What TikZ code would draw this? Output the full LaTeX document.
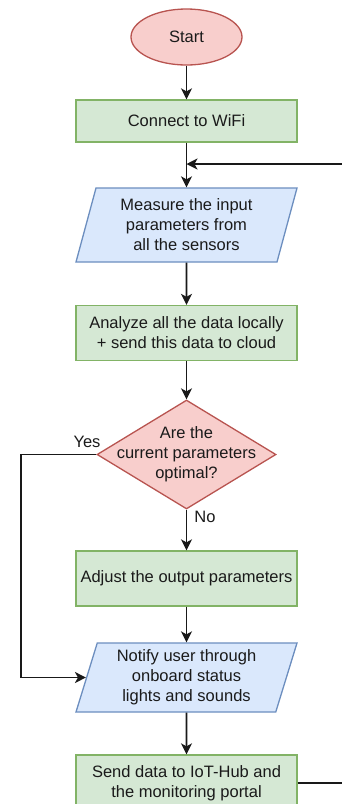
\documentclass[tikz,border=0pt]{standalone}
\usepackage{fontspec}
\setmainfont{Liberation Sans}
\usetikzlibrary{shapes.geometric,arrows.meta}
\definecolor{gfill}{HTML}{D5E8D4}
\definecolor{gline}{HTML}{82B366}
\definecolor{bfill}{HTML}{DAE8FC}
\definecolor{bline}{HTML}{6C8EBF}
\definecolor{rfill}{HTML}{F8CECC}
\definecolor{rline}{HTML}{B85450}
\definecolor{txt}{HTML}{1A1A1A}
\begin{document}
\begin{tikzpicture}[x=1pt,y=-1pt,
  font=\fontsize{16.5}{20}\selectfont,
  every node/.style={text=txt, align=center, inner sep=0pt, line width=1.3pt},
  every label/.style={text=txt, align=center, inner sep=0pt},
  procbox/.style={draw=gline, fill=gfill, rectangle, minimum width=221pt},
  iobox/.style={draw=bline, fill=bfill, trapezium, trapezium left angle=69, trapezium right angle=111, trapezium stretches body, minimum width=221pt},
  termbox/.style={draw=rline, fill=rfill, ellipse, minimum width=111pt, minimum height=56pt},
  decbox/.style={draw=rline, fill=rfill, diamond, minimum width=179pt, minimum height=109pt},
  conn/.style={draw=black!90, line width=1.6pt, -{Stealth[length=11pt,width=11pt,inset=3pt]}}
]
\clip (0,0) rectangle (342,804);
\node[termbox] (start) at (186.5,37) {Start};
\node[procbox, minimum height=42pt] (wifi) at (186.5,121) {Connect to WiFi};
\node[iobox, minimum height=74pt] (measure) at (186.5,225) {Measure the input\\parameters from\\all the sensors};
\node[procbox, minimum height=55pt] (analyze) at (186.5,333) {Analyze all the data locally\\+ send this data to cloud};
\node[decbox, label={center:Are the\\current parameters\\optimal?}] (dec) at (186.5,454.5) {};
\node[procbox, minimum height=55pt] (adjust) at (186.5,578.5) {Adjust the output parameters};
\node[iobox, minimum height=69pt] (notify) at (186.5,677.5) {Notify user through\\onboard status\\lights and sounds};
\node[procbox, minimum height=56pt] (send) at (186.5,783) {Send data to IoT-Hub and\\the monitoring portal};
\node (yes) at (87,442) {Yes};
\node (no) at (205,517) {No};
\coordinate (yesc) at (21,454.5);
\coordinate (loopin) at (186.5,164);
\coordinate (loopc) at (380,164);
\draw[conn] (start) -- (wifi);
\draw[conn] (wifi) -- (measure);
\draw[conn] (measure) -- (analyze);
\draw[conn] (analyze) -- (dec);
\draw[conn] (dec) -- (adjust);
\draw[conn] (adjust) -- (notify);
\draw[conn] (notify) -- (send);
\draw[conn] (dec.west) -- (yesc) |- (notify.west);
\draw[conn] (send.east) -| (loopc) -- (loopin);
\end{tikzpicture}
\end{document}
